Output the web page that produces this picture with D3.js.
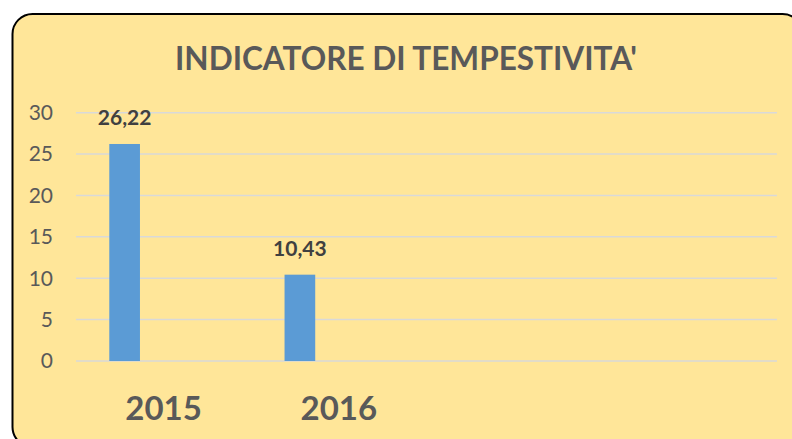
<!DOCTYPE html>
<html>
<head>
    <meta charset="utf-8">
    <title>Indicatore di tempestivita'</title>
    <script src="https://cdnjs.cloudflare.com/ajax/libs/d3/7.8.5/d3.min.js"></script>
    <style>
        body { margin: 0; background: #fff; }
        svg { display: block; font-family: Lato, "Open Sans", sans-serif; }
        .grid line { stroke: #d9d9d9; stroke-width: 1.5px; }
        .y-tick { fill: #595959; font-size: 21px; }
        .x-tick { fill: #595959; font-size: 33px; font-weight: bold; }
        .bar-label { fill: #404040; font-size: 21px; font-weight: bold; }
        .title { fill: #595959; font-size: 33px; font-weight: bold; }
    </style>
</head>
<body>
<svg id="chart"></svg>

<script>
    const categories = ["2015", "2016", "", " "];
    const values = [26.22, 10.43, null, null];
    const yTicks = [0, 5, 10, 15, 20, 25, 30];
    const title = "INDICATORE DI TEMPESTIVITA'";

    const width = 792;
    const height = 439;
    const plot = { left: 76, right: 777, top: 112.7, bottom: 361 };

    const svg = d3.select("#chart")
        .attr("width", width)
        .attr("height", height);

    // card background
    svg.append("rect")
        .attr("x", 12.5)
        .attr("y", 14)
        .attr("width", 790)
        .attr("height", 433)
        .attr("rx", 20)
        .attr("fill", "#ffe699")
        .attr("stroke", "#000")
        .attr("stroke-width", 2);

    svg.append("text")
        .attr("class", "title")
        .attr("x", 406)
        .attr("y", 70)
        .attr("text-anchor", "middle")
        .attr("textLength", 462)
        .attr("lengthAdjust", "spacingAndGlyphs")
        .text(title);

    const x = d3.scaleBand()
        .domain(categories)
        .range([plot.left, plot.right]);

    const y = d3.scaleLinear()
        .domain([0, 30])
        .range([plot.bottom, plot.top]);

    // gridlines
    svg.append("g")
        .attr("class", "grid")
        .selectAll("line")
        .data(yTicks)
        .join("line")
        .attr("x1", plot.left)
        .attr("x2", plot.right)
        .attr("y1", d => y(d))
        .attr("y2", d => y(d));

    svg.append("g")
        .selectAll("text")
        .data(yTicks)
        .join("text")
        .attr("class", "y-tick")
        .attr("x", 53)
        .attr("y", d => y(d))
        .attr("dy", "0.35em")
        .attr("text-anchor", "end")
        .text(d => d);

    // bars sit left of band centre, like excel's clustered layout
    const barOffset = x.bandwidth() * 0.19;
    const barWidth = x.bandwidth() * 0.175;
    const data = categories.map((c, i) => ({ cat: c, value: values[i] }))
        .filter(d => d.value != null);

    svg.append("g")
        .selectAll("rect")
        .data(data)
        .join("rect")
        .attr("x", d => x(d.cat) + barOffset)
        .attr("y", d => y(d.value))
        .attr("width", barWidth)
        .attr("height", d => y(0) - y(d.value))
        .attr("fill", "#5b9bd5");

    svg.append("g")
        .selectAll("text")
        .data(data)
        .join("text")
        .attr("class", "bar-label")
        .attr("x", d => x(d.cat) + barOffset + barWidth / 2)
        .attr("y", d => y(d.value) - 18.5)
        .attr("text-anchor", "middle")
        .text(d => d3.format(".2f")(d.value).replace(".", ","));

    svg.append("g")
        .selectAll("text")
        .data(categories.filter(c => c.trim() !== ""))
        .join("text")
        .attr("class", "x-tick")
        .attr("x", d => x(d) + x.bandwidth() / 2)
        .attr("y", 420)
        .attr("text-anchor", "middle")
        .text(d => d);
</script>
</body>
</html>
